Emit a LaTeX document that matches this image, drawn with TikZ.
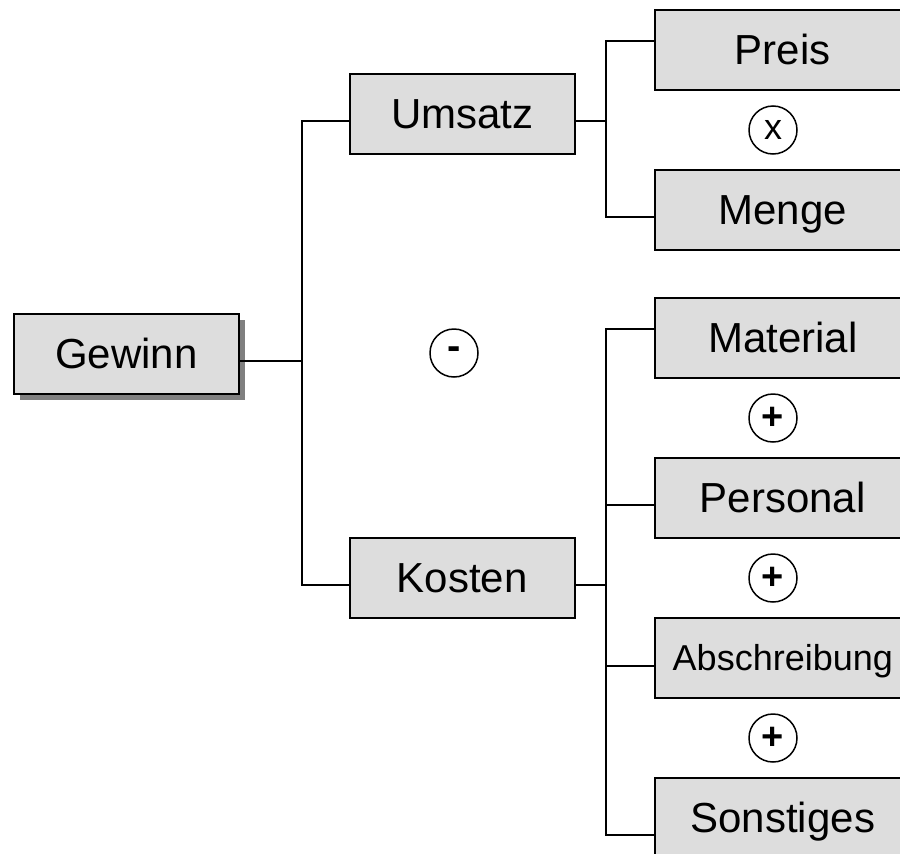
\documentclass[tikz,border=0pt]{standalone}
\usepackage{fontspec}
\setmainfont{Liberation Sans}
\usetikzlibrary{shadows}

\tikzset{
  box/.style={draw=black, line width=1.6pt, fill=boxgray, anchor=north west,
    minimum width=225pt, minimum height=80pt, inner sep=0pt,
    font=\fontsize{42}{48}\selectfont, text height=30pt, text depth=0pt},
  leaf/.style={box, minimum width=256pt},
  smallleaf/.style={leaf, font=\fontsize{36}{42}\selectfont, text height=26pt},
  op/.style={draw=black, line width=1.5pt, circle, minimum size=48pt, inner sep=0pt,
    font=\fontsize{36}{40}\selectfont},
  conn/.style={draw=black, line width=1.6pt}
}
\definecolor{boxgray}{HTML}{DDDDDD}

\begin{document}
\begin{tikzpicture}[x=1pt,y=-1pt]
  \useasboundingbox (0,0) rectangle (900,854);
  \clip (0,0) rectangle (900,854);

  % root and first level
  \node[box, drop shadow={shadow xshift=6pt, shadow yshift=-6pt, fill=black!50, opacity=1}]
    (gewinn) at (13,313) {Gewinn};
  \node[box] (umsatz) at (349,73) {Umsatz};
  \node[box] (kosten) at (349,537) {Kosten};

  % second level
  \node[leaf] (preis)    at (654,9)   {Preis};
  \node[leaf] (menge)    at (654,169) {Menge};
  \node[leaf] (material) at (654,297) {Material};
  \node[leaf] (personal) at (654,457) {Personal};
  \node[smallleaf] (abschr) at (654,617) {Abschreibung};
  \node[leaf] (sonst)    at (654,777) {Sonstiges};

  % operators between siblings
  \node[op] (opx)  at (773,130) {x};
  \node[op, font=\fontsize{40}{44}\selectfont\bfseries] (opm) at (454,353) {-};
  \node[op, font=\fontsize{38}{42}\selectfont\bfseries] (opp1) at (773,418) {+};
  \node[op, font=\fontsize{38}{42}\selectfont\bfseries] (opp2) at (773,578) {+};
  \node[op, font=\fontsize{38}{42}\selectfont\bfseries] (opp3) at (773,738) {+};

  % junction points of the tree
  \coordinate (jG) at (302,361);
  \coordinate (jU) at (606,121);
  \coordinate (jK) at (606,585);

  % Gewinn -> Umsatz / Kosten
  \draw[conn] (gewinn.east |- jG) -- (jG);
  \draw[conn] (umsatz.west |- 0,121) -| (jG) |- (kosten.west |- 0,585);

  % Umsatz -> Preis / Menge
  \draw[conn] (umsatz.east |- jU) -- (jU);
  \draw[conn] (preis.west |- 0,41) -| (jU) |- (menge.west |- 0,217);

  % Kosten -> cost types
  \draw[conn] (kosten.east |- jK) -- (jK);
  \draw[conn] (material.west |- 0,329) -| (jK) |- (sonst.west |- 0,835);
  \draw[conn] (jK |- 0,505) -- (personal.west |- 0,505);
  \draw[conn] (jK |- 0,666) -- (abschr.west |- 0,666);
\end{tikzpicture}
\end{document}
